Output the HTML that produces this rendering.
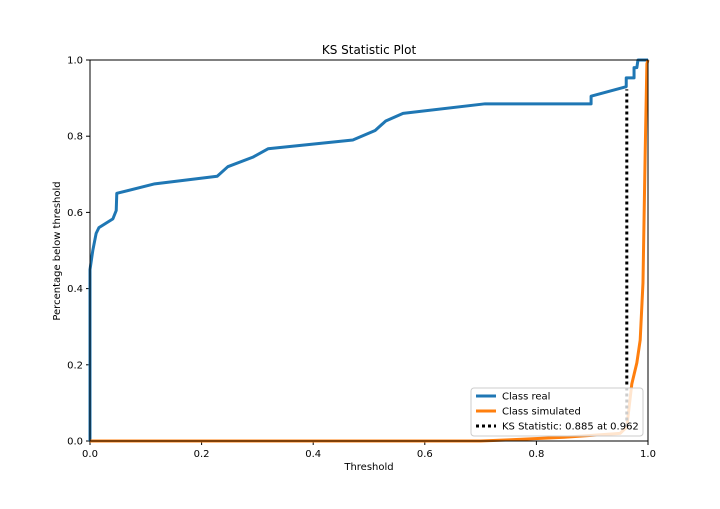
<!DOCTYPE html>
<html><head><meta charset="utf-8"><style>
body{margin:0;background:#fff;}
svg{font-family:"DejaVu Sans","Liberation Sans",sans-serif;}
</style></head><body>
<svg id="chart" width="720" height="504" xmlns="http://www.w3.org/2000/svg">
<rect width="720" height="504" fill="#fff"/>
<text x="369" y="54" text-anchor="middle" font-size="12">KS Statistic Plot</text>
<g id="plot"></g>
<text x="369" y="470" text-anchor="middle" font-size="10">Threshold</text>
<text transform="translate(60,251) rotate(-90)" text-anchor="middle" font-size="10">Percentage below threshold</text>
</svg>
<script>
const realX=[0,0,0.002,0.004,0.005,0.011,0.016,0.041,0.047,0.048,0.116,0.228,0.247,0.292,0.319,0.471,0.511,0.530,0.561,0.708,0.898,0.898,0.961,0.961,0.975,0.975,0.980,0.982,1.0];
const realY=[0,0.45,0.47,0.49,0.5,0.545,0.56,0.583,0.605,0.65,0.675,0.695,0.72,0.745,0.767,0.79,0.815,0.84,0.86,0.885,0.885,0.905,0.93,0.953,0.953,0.98,0.98,1.0,1.0];
const simX=[0,0.70,0.75,0.85,0.95,0.962,0.971,0.98,0.986,0.991,0.993,0.995,0.998,1.0];
const simY=[0,0,0.003,0.01,0.02,0.037,0.15,0.205,0.265,0.415,0.59,0.76,0.99,1.0];
const ksX=0.962, ksLow=0.038, ksHigh=0.923;
const xTicks=["0.0","0.2","0.4","0.6","0.8","1.0"];
const yTicks=["0.0","0.2","0.4","0.6","0.8","1.0"];
const X0=90,X1=648,Y0=441,Y1=60;
const sx=v=>X0+(X1-X0)*v, sy=v=>Y0-(Y0-Y1)*v;
const NS="http://www.w3.org/2000/svg";
const g=document.getElementById('plot');
function mk(t,a){const e=document.createElementNS(NS,t);for(const k in a)e.setAttribute(k,a[k]);g.appendChild(e);return e;}
xTicks.forEach(t=>{const v=parseFloat(t);
const l=mk('line',{x1:sx(v),x2:sx(v),y1:Y0,y2:Y0+4,stroke:'#000'});


const tx=mk('text',{x:sx(v),y:Y0+16,'text-anchor':'middle','font-size':10});tx.textContent=t;

});
yTicks.forEach(t=>{const v=parseFloat(t);
const l=mk('line',{x1:X0-4,x2:X0,y1:sy(v),y2:sy(v),stroke:'#000'});


const tx=mk('text',{x:X0-7,y:sy(v)+3.5,'text-anchor':'end','font-size':10});tx.textContent=t;

});
function pts(xs,ys){return xs.map((x,i)=>sx(x)+','+sy(ys[i])).join(' ');}
const s1=mk('polyline',{points:pts(realX,realY),fill:'none',stroke:'#1f77b4','stroke-width':3,'stroke-linejoin':'round'});


const s2=mk('polyline',{points:pts(simX,simY),fill:'none',stroke:'#ff7f0e','stroke-width':3,'stroke-linejoin':'round'});


const ks=mk('line',{x1:sx(ksX),x2:sx(ksX),y1:sy(ksLow),y2:sy(ksHigh),stroke:'#000','stroke-width':3,'stroke-dasharray':'3 3'});


const fr=mk('rect',{x:X0,y:Y1,width:X1-X0,height:Y0-Y1,fill:'none',stroke:'#000','stroke-width':1});


const lg=mk('rect',{x:471,y:388,width:172,height:48,rx:3,fill:'#fff','fill-opacity':0.8,stroke:'#ccc'});


const items=[['Class real','#1f77b4',''],['Class simulated','#ff7f0e',''],['KS Statistic: 0.885 at 0.962','#000','3 3']];
items.forEach((it,i)=>{const y=396+i*15;
const l=mk('line',{x1:476,x2:496,y1:y,y2:y,stroke:it[1],'stroke-width':3,'stroke-dasharray':it[2]||'none'});


const t=mk('text',{x:502,y:y+3.5,'font-size':10});t.textContent=it[0];

});
</script>
</body></html>
